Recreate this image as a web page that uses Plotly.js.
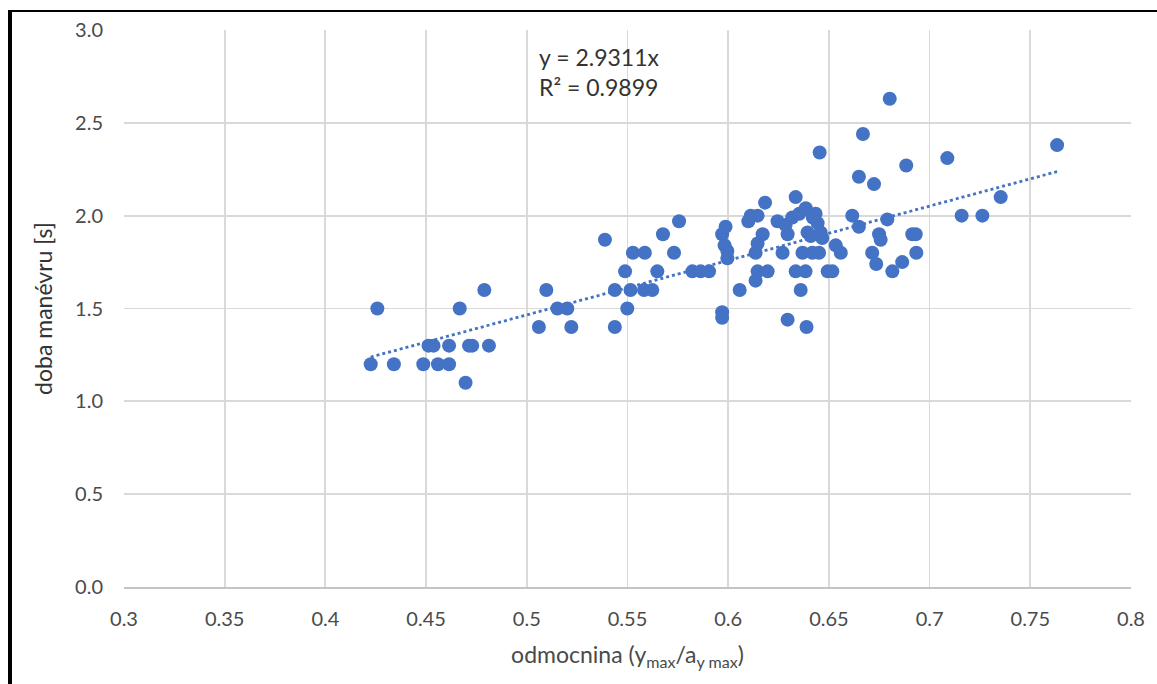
<!DOCTYPE html>
<html>
<head>
<meta charset="utf-8">
<script src="https://cdn.plot.ly/plotly-3.0.1.min.js"></script>
<style>
  html, body { margin: 0; padding: 0; background: #fff; }
  #wrap { position: relative; width: 1157px; height: 684px; overflow: hidden; }
  #chart { width: 1157px; height: 684px; }
  #frame { position: absolute; left: 8px; top: 10px; right: -10px; bottom: -10px;
           border-left: 4px solid #000; border-top: 2px solid #000; pointer-events: none; }
</style>
</head>
<body>
<div id="wrap"><div id="chart"></div><div id="frame"></div></div>
<script>
// measured data: odmocnina (ymax / ay max) vs doba manévru [s]
const odmocnina = [
  0.4225,0.4258,0.4340,0.4486,0.4512,0.4537,0.4559,0.4614,0.4614,0.4667,
  0.4696,0.4713,0.4729,0.4789,0.4812,0.5060,0.5097,0.5152,0.5201,0.5221,
  0.5388,0.5437,0.5437,0.5488,0.5499,0.5515,0.5527,0.5586,0.5582,0.5623,
  0.5648,0.5676,0.5731,0.5756,0.5822,0.5863,0.5905,0.5970,0.5987,0.5982,
  0.5996,0.5996,0.5970,0.5970,0.6057,0.6100,0.6112,0.6146,0.6183,0.6171,
  0.6146,0.6136,0.6146,0.6196,0.6136,0.6245,0.6270,0.6285,0.6295,0.6318,
  0.6335,0.6353,0.6385,0.6434,0.6444,0.6459,0.6467,0.6394,0.6410,0.6369,
  0.6418,0.6451,0.6335,0.6384,0.6360,0.6295,0.6389,0.6494,0.6517,0.6534,
  0.6559,0.6454,0.6616,0.6649,0.6649,0.6669,0.6724,0.6802,0.6884,0.7088,
  0.7353,0.6790,0.7159,0.7262,0.6749,0.6757,0.6914,0.6931,0.6715,0.6934,
  0.6735,0.6864,0.6815,0.7633,0.6420
];
const dobaManevru = [
  1.20,1.50,1.20,1.20,1.30,1.30,1.20,1.20,1.30,1.50,
  1.10,1.30,1.30,1.60,1.30,1.40,1.60,1.50,1.50,1.40,
  1.87,1.40,1.60,1.70,1.50,1.60,1.80,1.80,1.60,1.60,
  1.70,1.90,1.80,1.97,1.70,1.70,1.70,1.90,1.94,1.84,
  1.81,1.77,1.48,1.45,1.60,1.97,2.00,2.00,2.07,1.90,
  1.85,1.80,1.70,1.70,1.65,1.97,1.80,1.95,1.90,1.99,
  2.10,2.01,2.04,2.01,1.96,1.91,1.88,1.91,1.89,1.80,
  1.80,1.80,1.70,1.70,1.60,1.44,1.40,1.70,1.70,1.84,
  1.80,2.34,2.00,1.94,2.21,2.44,2.17,2.63,2.27,2.31,
  2.10,1.98,2.00,2.00,1.90,1.87,1.90,1.90,1.80,1.80,
  1.74,1.75,1.70,2.38,1.99
];
const trendSlope = 2.9311;
const trendR2 = 0.9899;
const xTickValues = [0.3,0.35,0.4,0.45,0.5,0.55,0.6,0.65,0.7,0.75,0.8];
const xTickLabels = ["0.3","0.35","0.4","0.45","0.5","0.55","0.6","0.65","0.7","0.75","0.8"];

const xMin = Math.min(...odmocnina), xMax = Math.max(...odmocnina);
const trendX = [xMin, xMax];
const trendY = trendX.map(v => trendSlope * v);

const blue = '#4472C4';
const font = 'Lato, "Open Sans", sans-serif';
const tickColor = '#4a4a4a';

const traces = [
  {
    x: odmocnina, y: dobaManevru, type: 'scatter', mode: 'markers',
    marker: { size: 14, color: blue, line: { width: 0 } },
    hoverinfo: 'x+y'
  },
  {
    x: trendX, y: trendY, type: 'scatter', mode: 'lines',
    line: { color: blue, width: 2.8, dash: 'dot' },
    hoverinfo: 'skip'
  }
];

const layout = {
  width: 1157, height: 684,
  margin: { l: 124, r: 26, t: 30, b: 97 },
  paper_bgcolor: '#ffffff', plot_bgcolor: '#ffffff',
  showlegend: false,
  font: { family: font, color: tickColor, size: 20 },
  xaxis: {
    range: [0.3, 0.8],
    tickvals: xTickValues, ticktext: xTickLabels,
    showgrid: true, gridcolor: '#D9D9D9', gridwidth: 1.8,
    zeroline: false,
    showline: true, linecolor: '#C4C4C4', linewidth: 1.8,
    ticks: '', ticklabelstandoff: 13,
    tickfont: { family: font, size: 20, color: tickColor },
    title: { text: 'odmocnina (y<sub>max</sub>/a<sub>y max</sub>)', standoff: 18,
             font: { family: font, size: 23, color: tickColor } }
  },
  yaxis: {
    range: [0, 3.0], dtick: 0.5, tickformat: '.1f',
    showgrid: true, gridcolor: '#D9D9D9', gridwidth: 1.8,
    zeroline: false, showline: false,
    ticks: '', ticklabelstandoff: 20,
    tickfont: { family: font, size: 20, color: tickColor },
    title: { text: 'doba manévru [s]', standoff: 16,
             font: { family: font, size: 23, color: '#333333' } }
  },
  annotations: [
    {
      xref: 'x', yref: 'y', x: 0.505, y: 2.94,
      xanchor: 'left', yanchor: 'top', align: 'left', showarrow: false,
      text: 'y = ' + trendSlope.toFixed(4) + 'x<br>R² = ' + trendR2.toFixed(4),
      font: { family: font, size: 23, color: '#333333' }
    }
  ]
};

Plotly.newPlot('chart', traces, layout, { displayModeBar: false, staticPlot: true });
</script>
</body>
</html>
